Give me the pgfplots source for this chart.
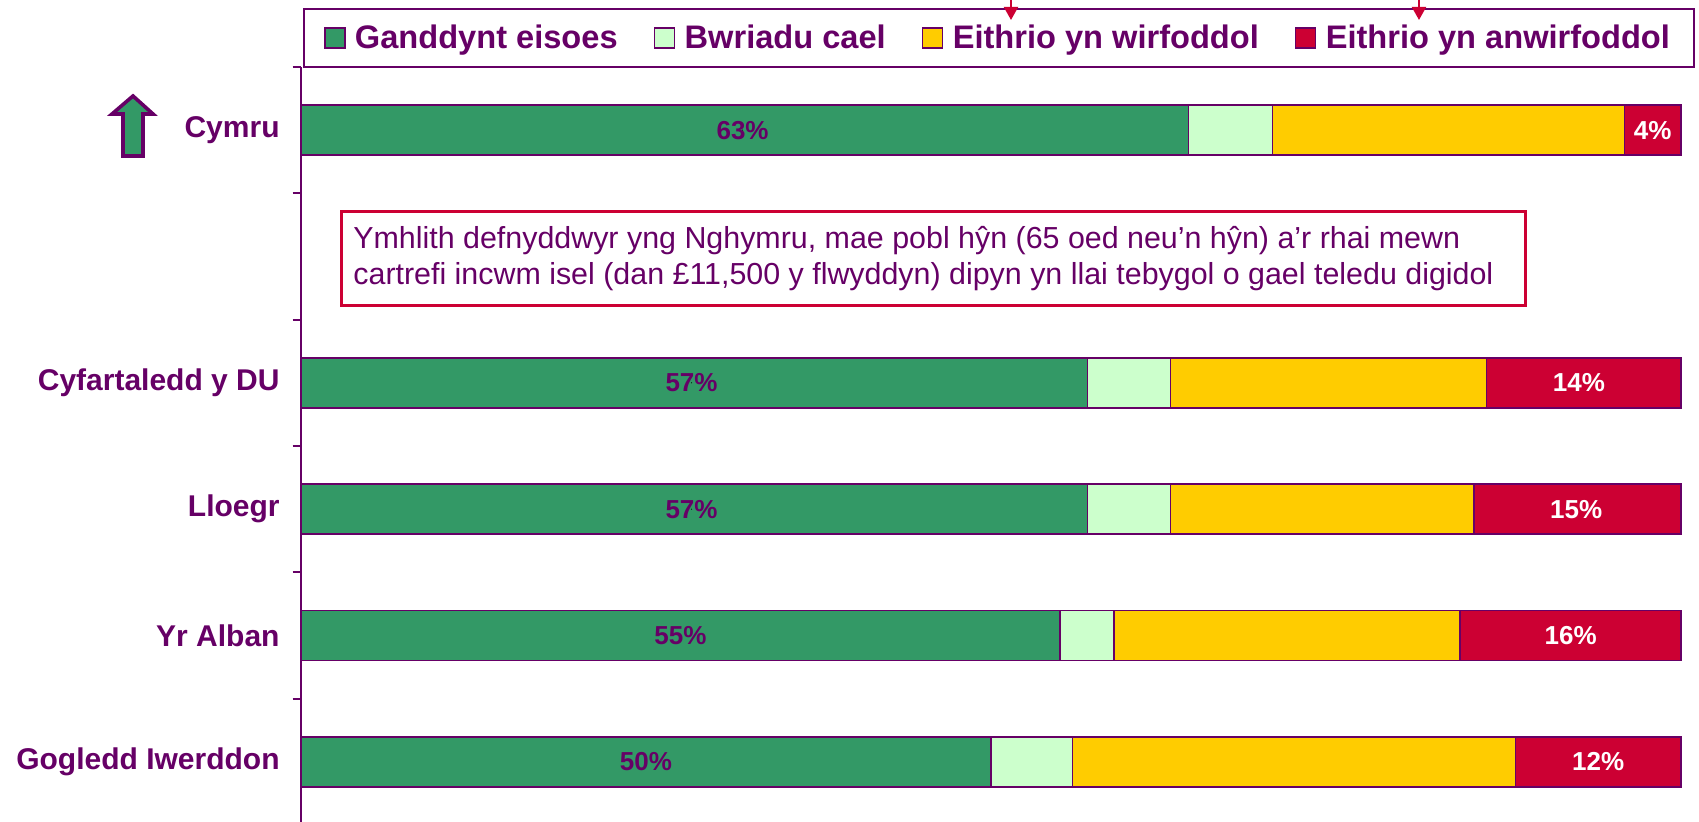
\documentclass[border=0pt]{standalone}
\usepackage{pgfplots}
\pgfplotsset{compat=1.18}
\usepackage{pgfplotstable}
\usepackage{fontspec}
\setmainfont{Liberation Sans}
\usetikzlibrary{arrows.meta}
\definecolor{purp}{HTML}{660066}
\definecolor{cgreen}{HTML}{339966}
\definecolor{clight}{HTML}{CCFFCC}
\definecolor{cyellow}{HTML}{FFCC00}
\definecolor{cred}{HTML}{CC0033}

\pgfplotstableread{
y green light yellow red
0 64.3 6.1 25.5 4.1
2 57.0 6.0 22.9 14.1
3 57.0 6.0 22.0 15.0
4 55.0 3.9 25.1 16.0
5 50.0 5.9 32.1 12.0
}\datatable

\pgfplotsset{
  sqlegend/.style={legend image code/.code={\draw[##1, line width=0.8pt] (0pt,-5pt) rectangle (10pt,5pt);}},
}

\begin{document}
\begin{tikzpicture}
\useasboundingbox (-150.5pt,0pt) rectangle (699pt,411pt);
\begin{axis}[
  at={(0pt,-1.5pt)}, anchor=south west,
  scale only axis, width=690pt, height=379pt,
  xbar stacked, bar width=25pt,
  xmin=0, xmax=100, ymin=-0.5, ymax=5.5, y dir=reverse,
  axis x line=none, axis y line*=left,
  y axis line style={draw=purp, line width=1pt, -},
  ytick={0,1,2,3,4,5},
  yticklabels={Cymru,{},Cyfartaledd y DU,Lloegr,Yr Alban,Gogledd Iwerddon},
  minor ytick={-0.5,0.5,1.5,2.5,3.5,4.5,5.5},
  major tick length=0pt, minor tick length=4.2pt,
  tick align=outside,
  every tick/.style={draw=purp, line width=1pt},
  yticklabel style={font=\bfseries\fontsize{15}{18}\selectfont, text=purp, inner sep=0pt, xshift=-10.5pt},
  clip=false,
  legend columns=4,
  legend cell align=left,
  legend style={at={(0,1)}, anchor=south west, xshift=1pt, yshift=-0.5pt,
    draw=purp, line width=1pt, inner xsep=10pt, inner ysep=5.8pt,
    font=\bfseries\fontsize{16.3}{19}\selectfont, text=purp,
    /tikz/every odd column/.append style={column sep=2.7pt},
    /tikz/every even column/.append style={column sep=16pt}},
]
\addplot[fill=cgreen, draw=purp, line width=0.75pt, sqlegend] table[x=green,y=y]{\datatable};
\addplot[fill=clight, draw=purp, line width=0.75pt, sqlegend] table[x=light,y=y]{\datatable};
\addplot[fill=cyellow, draw=purp, line width=0.75pt, sqlegend] table[x=yellow,y=y]{\datatable};
\addplot[fill=cred, draw=purp, line width=0.75pt, sqlegend] table[x=red,y=y]{\datatable};
\legend{Ganddynt eisoes, Bwriadu cael, Eithrio yn wirfoddol, Eithrio yn anwirfoddol}
\end{axis}
\begin{axis}[
  at={(0pt,-1.5pt)}, anchor=south west,
  scale only axis, width=690pt, height=379pt,
  xmin=0, xmax=100, ymin=-0.5, ymax=5.5, y dir=reverse,
  hide axis, clip=false,
]
\addplot[only marks, mark=*, mark size=0.01pt, mark options={draw=none, fill=none},
  nodes near coords, point meta=explicit symbolic,
  every node near coord/.style={anchor=center, inner sep=0pt, font=\bfseries\fontsize{13}{15}\selectfont, text=purp}]
  coordinates {(32.0,0) [63\%] (28.3,2) [57\%] (28.3,3) [57\%] (27.5,4) [55\%] (25.0,5) [50\%]};
\addplot[only marks, mark=*, mark size=0.01pt, mark options={draw=none, fill=none},
  nodes near coords, point meta=explicit symbolic,
  every node near coord/.style={anchor=center, inner sep=0pt, font=\bfseries\fontsize{13}{15}\selectfont, text=white}]
  coordinates {(97.95,0) [4\%] (92.6,2) [14\%] (92.4,3) [15\%] (92.0,4) [16\%] (94.0,5) [12\%]};
\end{axis}
% annotation box
\draw[cred, line width=1.5pt] (20.5pt,258pt) rectangle (612pt,305pt);
\node[anchor=west, align=left, text=purp, font=\fontsize{15.2}{18}\selectfont, inner sep=0pt]
  at (26pt,281.5pt) {Ymhlith defnyddwyr yng Nghymru, mae pobl hŷn (65 oed neu’n hŷn) a’r rhai mewn\\cartrefi incwm isel (dan £11,500 y flwyddyn) dipyn yn llai tebygol o gael teledu digidol};
% up arrow icon
\draw[purp, line width=1.8pt, fill=cgreen, line join=miter]
  (-84pt,363pt) -- (-74pt,354pt) -- (-79pt,354pt) -- (-79pt,333pt) -- (-89pt,333pt) -- (-89pt,354pt) -- (-94.5pt,354pt) -- cycle;
% red arrows at top
\draw[cred, line width=1pt, -{Triangle[length=6.5pt,width=7pt]}] (355pt,415pt) -- (355pt,401pt);
\draw[cred, line width=1pt, -{Triangle[length=6.5pt,width=7pt]}] (559pt,415pt) -- (559pt,401pt);
\end{tikzpicture}
\end{document}
